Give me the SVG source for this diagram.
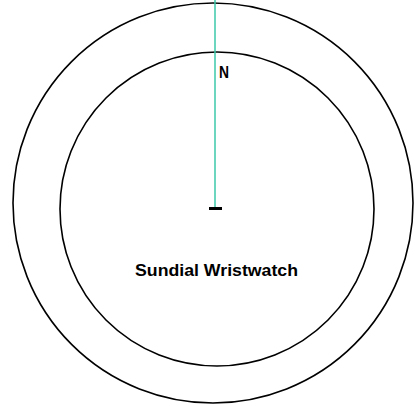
<svg xmlns="http://www.w3.org/2000/svg" width="415" height="406" viewBox="0 0 415 406">
<style>
.ring{fill:none;stroke:#000;stroke-width:1.6}
.lbl{font-family:"Liberation Sans",Arial,sans-serif;font-weight:bold;fill:#000}
</style>
<rect width="415" height="406" fill="#fff"/>
<g id="outer-dial"><circle class="ring" cx="213" cy="203" r="200"/></g>
<g id="inner-dial"><circle class="ring" cx="217" cy="209" r="157"/></g>
<g id="connectors">
<line x1="215" y1="0" x2="215" y2="207" stroke="#3cc8a8" stroke-width="1.5"/>
</g>
<g id="gnomon-base"><rect x="209" y="207" width="13" height="3" fill="#000"/></g>
<g id="north"><text class="lbl" x="219" y="78" font-size="16" textLength="10" lengthAdjust="spacingAndGlyphs">N</text></g>
<g id="title"><text class="lbl" x="135" y="276" font-size="16" textLength="163" lengthAdjust="spacingAndGlyphs">Sundial Wristwatch</text></g>
</svg>
